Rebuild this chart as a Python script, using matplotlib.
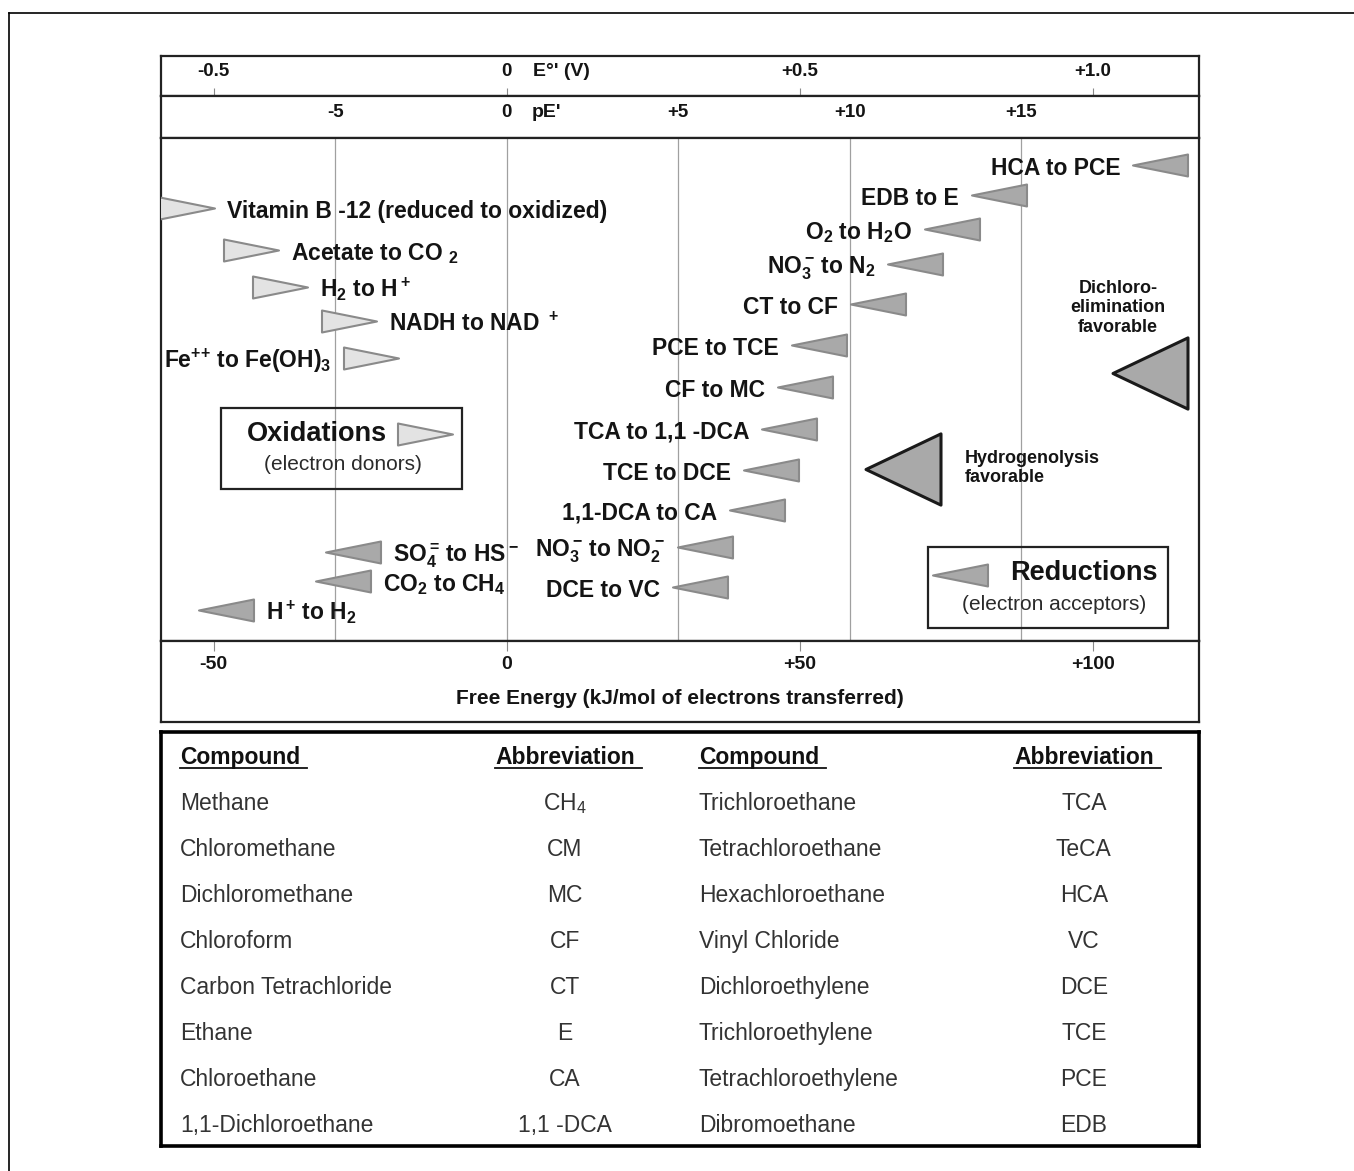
import matplotlib
matplotlib.use("Agg")
import matplotlib.pyplot as plt
from matplotlib.path import Path
from matplotlib.patches import Rectangle
from matplotlib.lines import Line2D

plt.rcParams["font.family"] = ["Liberation Sans", "DejaVu Sans"]
plt.rcParams["mathtext.default"] = "regular"

# scales as drawn in the figure: kJ per volt and kJ per pE unit
KJ_PER_VOLT = 100.0
KJ_PER_PE = 5.85
G_LIM = (-59.0, 118.1)
ROW_LIM = (503, 0)

e_ticks = [-0.5, 0.0, 0.5, 1.0]
e_labels = ["-0.5", "0", "+0.5", "+1.0"]
pe_ticks = [-5, 0, 5, 10, 15]
pe_labels = ["-5", "0", "+5", "+10", "+15"]
g_ticks = [-50, 0, 50, 100]
g_labels = ["-50", "0", "+50", "+100"]

# reductions (electron acceptors): triangle centre in kJ, row from top, label side
red_labels = [
    "HCA to PCE", "EDB to E", "O$_2$ to H$_2$O", "NO$_3^-\\!$ to N$_2$",
    "CT to CF", "PCE to TCE", "CF to MC", "TCA to 1,1 -DCA", "TCE to DCE",
    "1,1-DCA to CA", "NO$_3^-\\!$ to NO$_2^-$", "DCE to VC",
    "SO$_4^=\\!$ to HS$^-$", "CO$_2$ to CH$_4$", "H$^+\\!$ to H$_2$",
]
red_energy = [111.5, 83.9, 75.9, 69.7, 63.3, 53.3, 50.8, 48.2, 45.1,
              42.7, 33.8, 32.9, -26.3, -28.0, -47.9]
red_rows = [27, 57, 91, 126, 166, 207, 249, 291, 332, 372, 409, 449,
            414, 443, 472]
red_side = ["L"] * 12 + ["R", "R", "R"]

# oxidations (electron donors)
ox_labels = [
    "Vitamin B -12 (reduced to oxidized)", "Acetate to CO $_2$",
    "H$_2$ to H$^+$", "NADH to NAD $^+$", "Fe$^{+\\!+}\\!$ to Fe(OH)$_3$",
]
ox_energy = [-54.5, -43.6, -38.7, -27.0, -23.1]
ox_rows = [70, 112, 149, 183, 220]
ox_side = ["R", "R", "R", "R", "L"]

# compound table
left_compounds = ["Methane", "Chloromethane", "Dichloromethane", "Chloroform",
                  "Carbon Tetrachloride", "Ethane", "Chloroethane",
                  "1,1-Dichloroethane"]
left_abbrevs = ["CH$_4$", "CM", "MC", "CF", "CT", "E", "CA", "1,1 -DCA"]
right_compounds = ["Trichloroethane", "Tetrachloroethane", "Hexachloroethane",
                   "Vinyl Chloride", "Dichloroethylene", "Trichloroethylene",
                   "Tetrachloroethylene", "Dibromoethane"]
right_abbrevs = ["TCA", "TeCA", "HCA", "VC", "DCE", "TCE", "PCE", "EDB"]

RED_FILL = "#a9a9a9"
OX_FILL = "#e3e3e3"
TRI_EDGE = "#8a8a8a"
INK = "#141414"
FRAME = "#222222"

W, H = 1354, 1171
fig = plt.figure(figsize=(W / 100, H / 100), dpi=100)


def add_px_axes(x0, y0, x1, y1):
    return fig.add_axes([x0 / W, 1 - y1 / H, (x1 - x0) / W, (y1 - y0) / H])


def style_box(a, lw=1.6, color=FRAME):
    a.set_xticks([])
    a.set_yticks([])
    for s in a.spines.values():
        s.set_linewidth(lw)
        s.set_color(color)


left_tri = Path([(-1, 0), (1, 0.4), (1, -0.4), (-1, 0)],
                [Path.MOVETO, Path.LINETO, Path.LINETO, Path.CLOSEPOLY])
right_tri = Path([(1, 0), (-1, 0.4), (-1, -0.4), (1, 0)],
                 [Path.MOVETO, Path.LINETO, Path.LINETO, Path.CLOSEPOLY])
big_tri = Path([(-1, 0), (1, 0.95), (1, -0.95), (-1, 0)],
               [Path.MOVETO, Path.LINETO, Path.LINETO, Path.CLOSEPOLY])
TRI_MS = 39.6
HALF_PT = TRI_MS / 2 + 9  # label offset from centre, points

# ---- E°' band
ax_e = add_px_axes(161, 56, 1199, 96)
style_box(ax_e)
ax_e.set_xlim(G_LIM[0] / KJ_PER_VOLT, G_LIM[1] / KJ_PER_VOLT)
ax_e.set_ylim(0, 1)
ax_e.set_xticks(e_ticks)
ax_e.tick_params(axis="x", direction="in", length=6, width=0.8,
                 color="#8a8a8a", labelbottom=False)
for t, lab in zip(e_ticks, e_labels):
    ax_e.text(t, 0.62, lab, ha="center", va="center", fontsize=13.5,
              weight="bold", color=INK)
ax_e.annotate("E°' (V)", xy=(0, 0.62), xytext=(19, 0),
              textcoords="offset points", ha="left", va="center",
              fontsize=14, weight="bold", color=INK)

# ---- pE' band
ax_pe = add_px_axes(161, 96, 1199, 138)
style_box(ax_pe)
ax_pe.set_xlim(G_LIM[0] / KJ_PER_PE, G_LIM[1] / KJ_PER_PE)
ax_pe.set_ylim(0, 1)
for t, lab in zip(pe_ticks, pe_labels):
    ax_pe.text(t, 0.6, lab, ha="center", va="center", fontsize=13.5,
               weight="bold", color=INK)
ax_pe.annotate("pE'", xy=(0, 0.6), xytext=(18, 0),
               textcoords="offset points", ha="left", va="center",
               fontsize=14, weight="bold", color=INK)

# ---- main panel
ax = add_px_axes(161, 138, 1199, 641)
style_box(ax)
ax.set_xlim(*G_LIM)
ax.set_ylim(*ROW_LIM)
for p in pe_ticks:
    ax.axvline(p * KJ_PER_PE, color="#a0a0a0", lw=0.9, zorder=0)

ax.plot(red_energy, red_rows, ls="none", marker=left_tri, ms=TRI_MS,
        mfc=RED_FILL, mec=TRI_EDGE, mew=1.5, zorder=3)
ax.plot(ox_energy, ox_rows, ls="none", marker=right_tri, ms=TRI_MS,
        mfc=OX_FILL, mec=TRI_EDGE, mew=1.5, zorder=3)


def put_labels(labels, xs, ys, sides):
    for lab, x, y, side in zip(labels, xs, ys, sides):
        dx = -HALF_PT if side == "L" else HALF_PT
        ax.annotate(lab, xy=(x, y), xytext=(dx, -7), textcoords="offset points",
                    ha="right" if side == "L" else "left", va="baseline",
                    fontsize=16.5, weight="bold", color=INK, zorder=4)


put_labels(red_labels, red_energy, red_rows, red_side)
put_labels(ox_labels, ox_energy, ox_rows, ox_side)

# legend boxes
ax.add_patch(Rectangle((-48.8, 270), 41.1, 81, fill=False, lw=1.6,
                       ec=FRAME, zorder=2))
ax.plot([-14.0], [296], ls="none", marker=right_tri, ms=TRI_MS,
        mfc=OX_FILL, mec=TRI_EDGE, mew=1.5, zorder=3)
ax.text(-44.4, 296, "Oxidations", ha="left", va="center", fontsize=19.5,
        weight="bold", color=INK)
ax.text(-28.0, 326, "(electron donors)", ha="center", va="center",
        fontsize=15, color="#2a2a2a")

ax.add_patch(Rectangle((71.8, 409), 41.0, 81, fill=False, lw=1.6,
                       ec=FRAME, zorder=2, clip_on=False))
ax.plot([77.4], [437], ls="none", marker=left_tri, ms=TRI_MS,
        mfc=RED_FILL, mec=TRI_EDGE, mew=1.5, zorder=3)
ax.text(111.1, 435, "Reductions", ha="right", va="center", fontsize=19.5,
        weight="bold", color=INK)
ax.text(93.3, 466, "(electron acceptors)", ha="center", va="center",
        fontsize=15, color="#2a2a2a")

# mechanism triangles
ax.plot([67.6, 109.7], [331, 235], ls="none", marker=big_tri, ms=54,
        mfc=RED_FILL, mec="#1a1a1a", mew=2.2, zorder=3)
ax.text(78.2, 330, "Hydrogenolysis\nfavorable", ha="left", va="center",
        fontsize=13, weight="bold", color=INK, linespacing=1.2)
ax.text(104.3, 170, "Dichloro-\nelimination\nfavorable", ha="center",
        va="center", fontsize=13, weight="bold", color=INK, linespacing=1.2)

# ---- free energy band
ax_g = add_px_axes(161, 641, 1199, 722)
style_box(ax_g)
ax_g.set_xlim(*G_LIM)
ax_g.set_ylim(0, 1)
ax_g.set_xticks(g_ticks)
ax_g.tick_params(axis="x", direction="in", top=True, bottom=False, length=7,
                 width=0.8, color="#8a8a8a", labelbottom=False)
for t, lab in zip(g_ticks, g_labels):
    ax_g.text(t, 0.716, lab, ha="center", va="center", fontsize=14,
              weight="bold", color=INK)
ax_g.text(0.5, 0.284, "Free Energy (kJ/mol of electrons transferred)",
          transform=ax_g.transAxes, ha="center", va="center", fontsize=15,
          weight="bold", color=INK)

# ---- compound table
ax_tab = add_px_axes(161, 732, 1199, 1146)
style_box(ax_tab, lw=2.6, color="#000000")
ax_tab.set_xlim(0, 1)
ax_tab.set_ylim(8.48, -0.52)
col_x = [0.0183, 0.389, 0.518, 0.889]
col_ha = ["left", "center", "left", "center"]
columns = [left_compounds, left_abbrevs, right_compounds, right_abbrevs]
headers = ["Compound", "Abbreviation", "Compound", "Abbreviation"]

header_texts = []
for x, ha, head, items in zip(col_x, col_ha, headers, columns):
    header_texts.append(ax_tab.text(x, 0.18, head, ha=ha, va="baseline",
                                    fontsize=16.5, weight="bold",
                                    color="#111111"))
    for i, item in enumerate(items, start=1):
        ax_tab.text(x, i + 0.17, item, ha=ha, va="baseline", fontsize=16.5,
                    color="#333333")

# underline the headers
fig.canvas.draw()
renderer = fig.canvas.get_renderer()
inv = fig.transFigure.inverted()
for t in header_texts:
    bb = t.get_window_extent(renderer)
    (x0, y0), (x1, _) = inv.transform([(bb.x0, bb.y0 + 1), (bb.x1 + 7, bb.y0)])
    fig.add_artist(Line2D([x0, x1], [y0, y0], transform=fig.transFigure,
                          color="#111111", lw=1.3))

# outer page frame (top and left edges)
fig.add_artist(Line2D([9 / W, 1], [1 - 13 / H, 1 - 13 / H],
                      transform=fig.transFigure, color="#000000", lw=1.2))
fig.add_artist(Line2D([9 / W, 9 / W], [0, 1 - 13 / H],
                      transform=fig.transFigure, color="#000000", lw=1.2))

fig.savefig("out.png", dpi=100, facecolor="white")
